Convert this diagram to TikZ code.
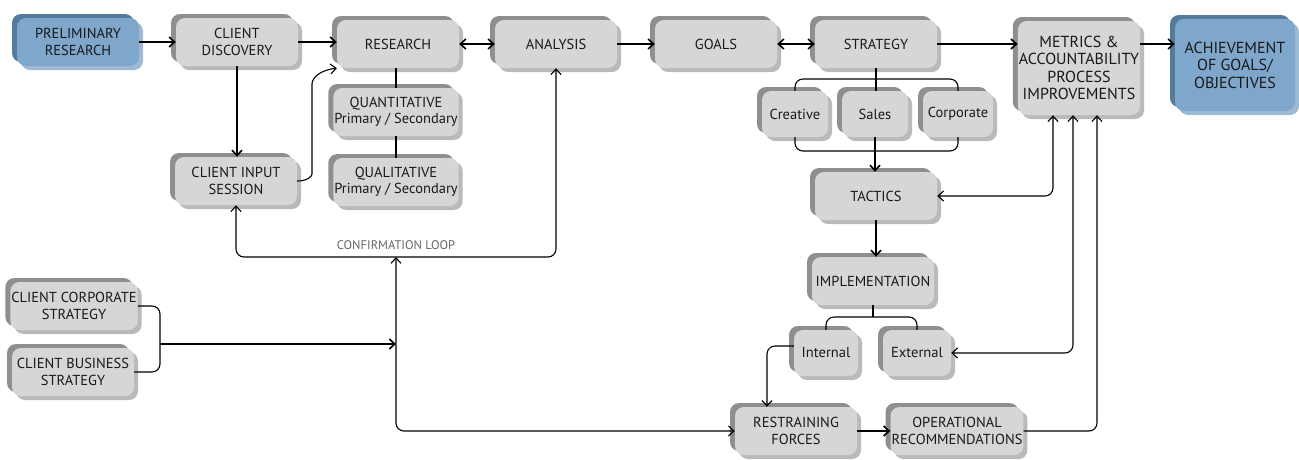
\documentclass[tikz,border=0pt]{standalone}
\usepackage{fontspec}
\setmainfont{PT Sans}
\usetikzlibrary{arrows.meta,shadows,calc}
\definecolor{facegray}{HTML}{D5D6D8}
\definecolor{edgedark}{HTML}{8E8F91}
\definecolor{edgelight}{HTML}{B9BABC}
\definecolor{blueface}{HTML}{7FA7CB}
\definecolor{bluedark}{HTML}{557A9A}
\definecolor{bluelight}{HTML}{9DBAD6}
\tikzset{
  boxbase/.style={rounded corners=9pt, align=center, inner sep=1pt, minimum width=122pt,
    minimum height=48pt, text=black!90, font=\fontsize{14.5}{16.5}\selectfont},
  bevel/.style n args={3}{fill=#1,
    general shadow={fill=#2, shadow xshift=-5pt, shadow yshift=4pt},
    general shadow={fill=#3, shadow xshift=4pt, shadow yshift=-4pt}},
  box/.style={boxbase, bevel={facegray}{edgedark}{edgelight}},
  bluebox/.style={boxbase, bevel={blueface}{bluedark}{bluelight}},
  smallbox/.style={box, minimum width=66pt, minimum height=46pt},
  bigtext/.style={font=\fontsize{16}{17.5}\selectfont},
  flow/.style={line width=1.6pt, ->},
  link/.style={line width=1.1pt, rounded corners=8pt},
  looplabel/.style={text=black!60, font=\fontsize{12.5}{14}\selectfont}
}
\begin{document}
\begin{tikzpicture}[x=1pt, y=-1pt, >={Straight Barb[length=5.5pt,width=10pt]}]
    \useasboundingbox (0,0) rectangle (1299,459);

    \node[bluebox] (prelim) at (78,42) {PRELIMINARY\\RESEARCH};
    \node[box] (discovery) at (237,42) {CLIENT\\DISCOVERY};
    \node[box] (research) at (398,44) {RESEARCH};
    \node[box] (analysis) at (556,44) {ANALYSIS};
    \node[box] (goals) at (716,44) {GOALS};
    \node[box] (strategy) at (876,44) {STRATEGY};
    \node[box, bigtext, minimum height=94pt] (metrics) at (1079,68) {METRICS \&\\ACCOUNTABILITY\\PROCESS\\IMPROVEMENTS};
    \node[bluebox, bigtext, minimum width=120pt, minimum height=92pt] (achieve) at (1235,65) {ACHIEVEMENT\\OF GOALS/\\OBJECTIVES};

    \node[box] (quant) at (396,112) {QUANTITATIVE\\Primary / Secondary};
    \node[box] (qual) at (396,182) {QUALITATIVE\\Primary / Secondary};
    \node[box] (input) at (236,181) {CLIENT INPUT\\SESSION};

    \node[smallbox] (creative) at (795,114) {Creative};
    \node[smallbox] (sales) at (875,114) {Sales};
    \node[smallbox, minimum width=70pt] (corporate) at (958,114) {Corporate};
    \node[box] (tactics) at (876,196) {TACTICS};
    \node[box] (implement) at (873,281) {IMPLEMENTATION};
    \node[smallbox, minimum width=64pt] (internal) at (826,353) {Internal};
    \node[smallbox, minimum width=68pt] (external) at (917,353) {External};
    \node[box] (restrain) at (796,431) {RESTRAINING\\FORCES};
    \node[box] (operational) at (957,431) {OPERATIONAL\\RECOMMENDATIONS};

    \node[box] (corpstrat) at (74,306) {CLIENT CORPORATE\\STRATEGY};
    \node[box] (busstrat) at (73,372) {CLIENT BUSINESS\\STRATEGY};

    \coordinate (loop) at (396,257);
    \coordinate (join) at (160,344);
    \coordinate (stratfork) at (876,79);
    \coordinate (tacfork) at (876,151);
    \coordinate (implfork) at (873,317);

    \draw[flow] (prelim) -- (discovery);
    \draw[flow] (discovery.east) -- (discovery.east -| research.west);
    \draw[flow, <->] (research) -- (analysis);
    \draw[flow] (analysis) -- (goals);
    \draw[flow, <->] (goals) -- (strategy);
    \draw[flow] (strategy.east) -- (strategy.east -| metrics.west);
    \draw[flow] (strategy.east -| metrics.east) -- (strategy.east -| achieve.west);

    \draw[flow] (discovery.south) -- (discovery.south |- input.north);
    \draw[link, ->] (input.east) .. controls (308,181) and (312,176) .. (312,166) -- (312,92)
        .. controls (312,78) and (320,70) .. (research.south west);
    \draw[link] (quant.north |- research.south) -- (quant.north);
    \draw[link] (quant.south) -- (qual.north);

    \draw[link, <->] (input.south) |- (loop) -| (analysis.south);
    \node[looplabel] (looptxt) at (396,245) {CONFIRMATION LOOP};
    \draw[link, <->] (loop) |- (restrain.west);

    \draw[link] (corpstrat.east) -| (join) |- (busstrat.east);
    \draw[flow] (join) -- (loop |- join);

    \draw[link] (strategy.south) -- (strategy.south |- sales.north);
    \draw[link] (creative.north) |- (stratfork) -| (corporate.north);
    \draw[link] (creative.south) |- (tacfork) -| (corporate.south);
    \draw[flow] (sales.south) -- (sales.south |- tactics.north);

    \draw[link, <->] (tactics.east) -| ($(metrics.south)+(-26,0)$);
    \draw[flow] (tactics.south) -- (tactics.south |- implement.north);
    \draw[link] (implement.south) -- (implfork);
    \draw[link] (internal.north) |- (implfork) -| (external.north);
    \draw[link, ->] ([yshift=7pt]internal.west) -| ($(restrain.north)+(-29,0)$);
    \draw[link, <->] (external.east) -| ($(metrics.south)+(-6,0)$);
    \draw[link, ->] (operational.east) -| ($(metrics.south)+(18,0)$);
    \draw[flow] (restrain) -- (operational);
\end{tikzpicture}
\end{document}
